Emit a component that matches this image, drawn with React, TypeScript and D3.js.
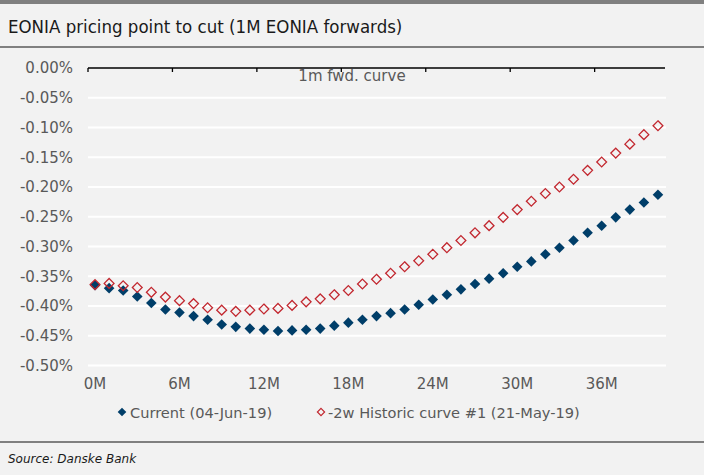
import * as d3 from "d3";
import { useEffect } from "react";

const width = 704;
const height = 475;
const marginTop = 68;
const marginLeft = 88;
const plotRight = 665;
const plotBottom = 365.5;

// months ahead, one point each
const months = d3.range(0, 41);
const xTickLabels = ["0M", "6M", "12M", "18M", "24M", "30M", "36M"];
const yTicks = [0, -0.05, -0.1, -0.15, -0.2, -0.25, -0.3, -0.35, -0.4, -0.45, -0.5];

// Current (04-Jun-19), %
const current = [
  -0.365, -0.37, -0.374, -0.384, -0.395, -0.406, -0.411, -0.417, -0.423, -0.431,
  -0.435, -0.438, -0.44, -0.442, -0.441, -0.44, -0.438, -0.433, -0.428, -0.423,
  -0.417, -0.412, -0.406, -0.398, -0.389, -0.381, -0.372, -0.363, -0.354, -0.345,
  -0.334, -0.325, -0.313, -0.302, -0.29, -0.277, -0.265, -0.251, -0.238, -0.226,
  -0.213,
];

// -2w Historic curve #1 (21-May-19), %
const historic = [
  -0.364, -0.362, -0.366, -0.369, -0.377, -0.385, -0.391, -0.396, -0.403, -0.407,
  -0.409, -0.407, -0.405, -0.404, -0.399, -0.393, -0.388, -0.381, -0.374, -0.363,
  -0.355, -0.345, -0.334, -0.324, -0.313, -0.302, -0.29, -0.277, -0.265, -0.251,
  -0.238, -0.224, -0.211, -0.2, -0.187, -0.172, -0.158, -0.143, -0.128, -0.112,
  -0.097,
];

const navy = "#003e69";
const red = "#c2272f";
const grey = "#595959";
const font = "'DejaVu Sans', sans-serif";

const diamond = (cx: number, cy: number, r: number) =>
  `M${cx},${cy - r}L${cx + r},${cy}L${cx},${cy + r}L${cx - r},${cy}Z`;

const App = () => {
  useEffect(() => {
    document.body.style.margin = "0";
  }, []);

  const x = d3
    .scaleBand<number>()
    .domain(months)
    .range([marginLeft, plotRight])
    .paddingInner(0);
  const cx = (m: number) => (x(m) as number) + x.bandwidth() / 2;

  const y = d3.scaleLinear().domain([0, -0.5]).range([marginTop, plotBottom]);
  const fmt = d3.format(".2f");

  return (
    <svg width={width} height={height} viewBox={`0 0 ${width} ${height}`} style={{ display: "block" }}>
      <rect width={width} height={height} fill="#f2f2f2" />
      <rect width={width} height={4} fill="#808080" />
      <text
        x={8}
        y={33}
        fontFamily="'DejaVu Sans Condensed', 'DejaVu Sans', sans-serif"
        fontStretch="condensed"
        fontSize={18.5}
        fill="#1a1a1a"
      >
        EONIA pricing point to cut (1M EONIA forwards)
      </text>
      <line x1={0} x2={width} y1={47} y2={47} stroke="#808080" strokeWidth={2} />

      {/* grid */}
      {yTicks.slice(1).map((t) => (
        <line key={t} x1={marginLeft} x2={plotRight + 1} y1={y(t)} y2={y(t)} stroke="#ffffff" strokeWidth={2} />
      ))}

      {/* y labels */}
      {yTicks.map((t) => (
        <text
          key={"yl" + t}
          x={73}
          y={y(t)}
          dy="0.36em"
          textAnchor="end"
          fontFamily={font}
          fontSize={15}
          fill={grey}
        >
          {(t === 0 ? "" : "-") + fmt(Math.abs(t)) + "%"}
        </text>
      ))}

      {/* zero axis with ticks */}
      <line x1={marginLeft} x2={plotRight} y1={y(0)} y2={y(0)} stroke="#000" strokeWidth={1.3} />
      {months
        .filter((m) => m % 6 === 0)
        .map((m) => (
          <line key={"t" + m} x1={x(m)} x2={x(m)} y1={y(0)} y2={y(0) + 4} stroke="#000" strokeWidth={1.3} />
        ))}

      <text x={352} y={81} textAnchor="middle" fontFamily={font} fontSize={15} fill={grey}>
        1m fwd. curve
      </text>

      {/* x labels */}
      {xTickLabels.map((l, i) => (
        <text key={l} x={cx(i * 6)} y={389} textAnchor="middle" fontFamily={font} fontSize={15} fill={grey}>
          {l}
        </text>
      ))}

      {/* series */}
      {current.map((v, i) => (
        <path key={"c" + i} d={diamond(cx(months[i]), y(v), 5.3)} fill={navy} />
      ))}
      {historic.map((v, i) => (
        <path key={"h" + i} d={diamond(cx(months[i]), y(v), 4.9)} fill="none" stroke={red} strokeWidth={1.3} />
      ))}

      {/* legend */}
      <path d={diamond(122, 412, 4.3)} fill={navy} />
      <text x={130} y={418} fontFamily={font} fontSize={14.6} fill={grey}>
        Current (04-Jun-19)
      </text>
      <path d={diamond(321, 412, 3.6)} fill="none" stroke={red} strokeWidth={1.2} />
      <text x={328} y={418} fontFamily={font} fontSize={14.6} fill={grey}>
        -2w Historic curve #1 (21-May-19)
      </text>

      <line x1={0} x2={width} y1={442} y2={442} stroke="#808080" strokeWidth={2} />
      <text x={8} y={463} fontFamily={font} fontStyle="italic" fontSize={12} fill="#1a1a1a">
        Source: Danske Bank
      </text>
    </svg>
  );
};

export default App;
